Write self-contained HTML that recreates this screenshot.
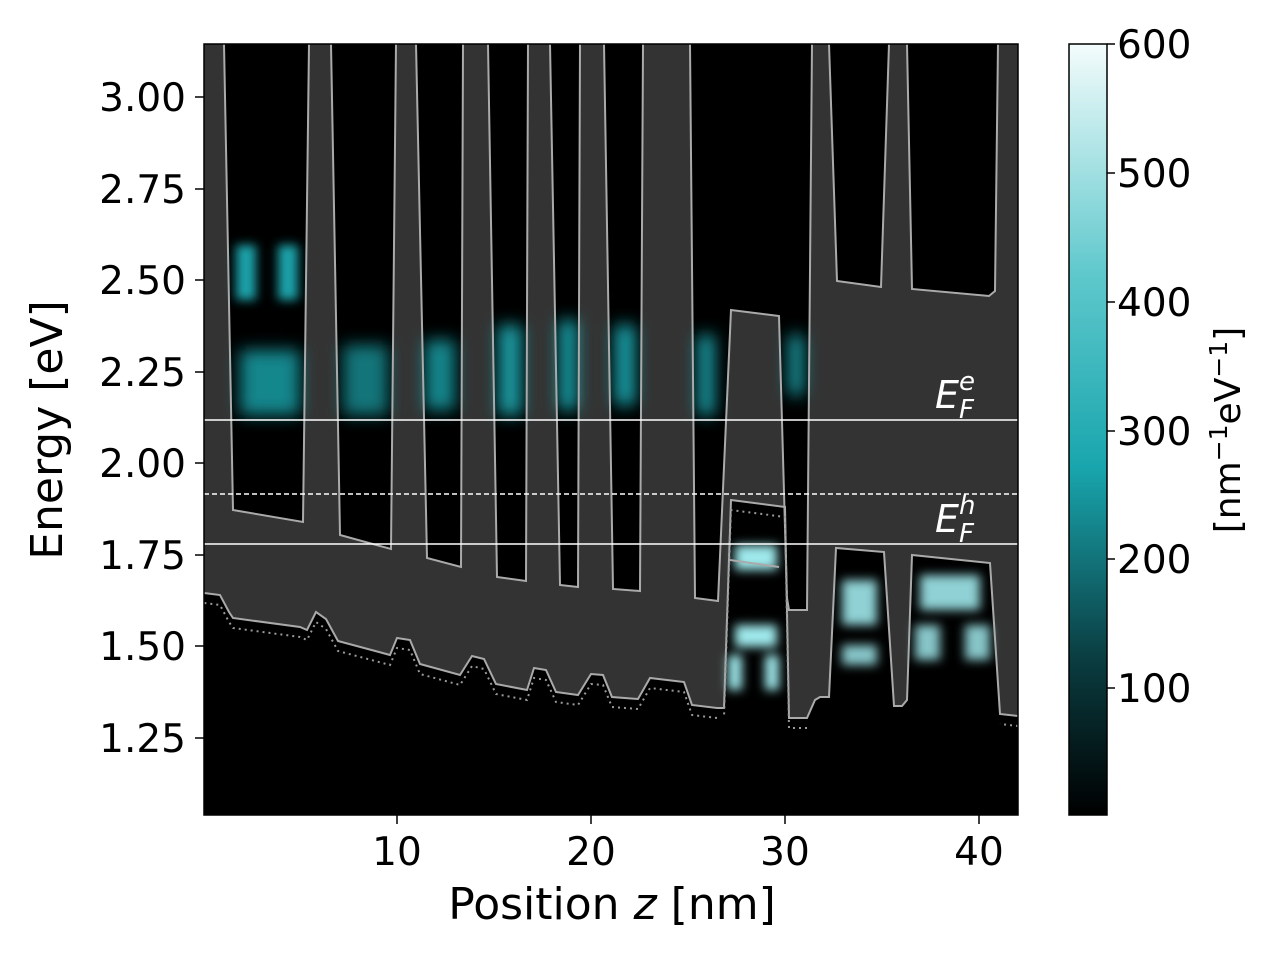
<!DOCTYPE html>
<html><head><meta charset="utf-8"><style>
html,body{margin:0;padding:0;background:#fff;}
svg{display:block;font-family:"DejaVu Sans","Liberation Sans",sans-serif;}
</style></head><body>
<svg width="1280" height="960" viewBox="0 0 1280 960" xmlns="http://www.w3.org/2000/svg">
<defs>
<filter id="b" x="-50%" y="-50%" width="200%" height="200%"><feGaussianBlur stdDeviation="8"/></filter>
<filter id="b2" x="-50%" y="-50%" width="200%" height="200%"><feGaussianBlur stdDeviation="5"/></filter>
<linearGradient id="cb" x1="0" y1="1" x2="0" y2="0">
<stop offset="0" stop-color="#000"/>
<stop offset="0.2" stop-color="#0a3c40"/>
<stop offset="0.45" stop-color="#19a5ad"/>
<stop offset="0.7" stop-color="#5ec8cc"/>
<stop offset="1" stop-color="#f4fcfc"/>
</linearGradient>
<clipPath id="pc"><rect x="204" y="44" width="814" height="771"/></clipPath>
</defs>
<g clip-path="url(#pc)">
<rect x="204" y="44" width="814" height="771" fill="#000"/>
<polygon fill="#333" points="204,44 224,44 233,510 303,522 309,44 331,44 340,535 391,549 396,44 416,44 427,558 461,567 463,44 488,44 497,577 526,581 528,44 550,44 560,585 578,587 580,44 604,44 613,589 640,591 643,44 665,44 690,44 695,598 718,601 731,310 779,316 787,598 789,610 807,610 812,44 829,44 837,281 881,287 889,44 907,44 912,289 989,296 995,291 998,44 1018,44 1018,716 1000,714 990,563 912,555 907,700 902,706 894,706 884,552 836,548 829,697 820,697 815,700 807,718 789,718 785,507 731,500 724,708 717,708 692,705 684,682 650,678 638,699 612,697 603,675 591,674 578,695 556,692 546,670 534,668 527,690 496,684 484,659 472,656 460,675 420,664 410,640 397,638 390,655 338,641 326,619 316,612 307,630 300,627 233,618 229,612 220,595 204,593"/>
<g fill="#1db4bc">
<g filter="url(#b2)">
<rect x="236" y="245" width="20" height="55" opacity="0.9"/>
<rect x="278" y="245" width="20" height="55" opacity="0.9"/>
</g>
<g filter="url(#b)">
<rect x="240" y="350" width="60" height="65" opacity="0.75"/>
<rect x="343" y="345" width="45" height="70" opacity="0.65"/>
<rect x="425" y="340" width="30" height="70" opacity="0.75"/>
<rect x="498" y="325" width="24" height="90" opacity="0.85"/>
<rect x="559" y="320" width="18" height="90" opacity="0.9"/>
<rect x="615" y="325" width="20" height="80" opacity="0.9"/>
<rect x="698" y="335" width="16" height="80" opacity="0.9"/>
<rect x="789" y="335" width="14" height="60" opacity="0.9"/>
</g>
<g filter="url(#b2)" fill="#9ee8eb">
<rect x="735" y="545" width="42" height="25"/>
<rect x="735" y="625" width="42" height="22"/>
<rect x="728" y="655" width="14" height="35"/>
<rect x="765" y="655" width="14" height="35"/>
<rect x="842" y="580" width="35" height="45" opacity="0.9"/>
<rect x="842" y="645" width="35" height="20" opacity="0.85"/>
<rect x="920" y="575" width="60" height="35" opacity="0.9"/>
<rect x="915" y="625" width="25" height="35" opacity="0.85"/>
<rect x="965" y="625" width="25" height="35" opacity="0.85"/>
</g>
</g>
<path fill="none" stroke="#aaa" stroke-width="2" d="M224,44 L233,510 303,522 309,44 M331,44 L340,535 391,549 396,44 M416,44 L427,558 461,567 463,44 M488,44 L497,577 526,581 528,44 M550,44 L560,585 578,587 580,44 M604,44 L613,589 640,591 643,44 M690,44 L695,598 718,601 731,310 779,316 787,598 789,610 807,610 812,44 M829,44 L837,281 881,287 889,44 M907,44 L912,289 989,296 995,291 998,44"/>
<path fill="none" stroke="#aaa" stroke-width="2" d="M1018,716 L1000,714 990,563 912,555 907,700 902,706 894,706 884,552 836,548 829,697 820,697 815,700 807,718 789,718 785,507 731,500 724,708 717,708 692,705 684,682 650,678 638,699 612,697 603,675 591,674 578,695 556,692 546,670 534,668 527,690 496,684 484,659 472,656 460,675 420,664 410,640 397,638 390,655 338,641 326,619 316,612 307,630 300,627 233,618 229,612 220,595 204,593 M730,560 L779,567"/>
<path fill="none" stroke="#999" stroke-width="2" stroke-dasharray="2,4" d="M1018,726 L1000,724 M807,728 L789,728 785,517 731,510 724,718 M717,718 L692,715 684,692 650,688 638,709 612,707 603,685 591,684 578,705 556,702 546,680 534,678 527,700 496,694 484,669 472,666 460,685 420,674 410,650 397,648 390,665 338,651 326,629 316,622 307,640 300,637 233,628 229,622 220,605 204,603"/>
<line x1="204" y1="420" x2="1018" y2="420" stroke="#fff" stroke-width="1.5"/>
<line x1="204" y1="544" x2="1018" y2="544" stroke="#fff" stroke-width="1.5"/>
<line x1="204" y1="494" x2="1018" y2="494" stroke="#fff" stroke-width="1.5" stroke-dasharray="5,3"/>
<text x="935" y="408" fill="#fff" font-size="38" font-style="italic">E<tspan font-size="26" dy="10">F</tspan><tspan font-size="26" dx="-15" dy="-28">e</tspan></text>
<text x="935" y="532" fill="#fff" font-size="38" font-style="italic">E<tspan font-size="26" dy="10">F</tspan><tspan font-size="26" dx="-15" dy="-28">h</tspan></text>
</g>
<rect x="204" y="44" width="814" height="771" fill="none" stroke="#000" stroke-width="1.5"/>
<g stroke="#000" stroke-width="1.5">
<line x1="195" y1="97" x2="204" y2="97"/><line x1="195" y1="189" x2="204" y2="189"/><line x1="195" y1="280" x2="204" y2="280"/><line x1="195" y1="372" x2="204" y2="372"/><line x1="195" y1="463" x2="204" y2="463"/><line x1="195" y1="555" x2="204" y2="555"/><line x1="195" y1="646" x2="204" y2="646"/><line x1="195" y1="738" x2="204" y2="738"/>
<line x1="397" y1="815" x2="397" y2="824"/><line x1="591" y1="815" x2="591" y2="824"/><line x1="785" y1="815" x2="785" y2="824"/><line x1="979" y1="815" x2="979" y2="824"/>
</g>
<g font-size="39" text-anchor="end" fill="#000">
<text x="186" y="111">3.00</text><text x="186" y="203">2.75</text><text x="186" y="294">2.50</text><text x="186" y="386">2.25</text><text x="186" y="477">2.00</text><text x="186" y="569">1.75</text><text x="186" y="660">1.50</text><text x="186" y="752">1.25</text>
</g>
<g font-size="39" text-anchor="middle">
<text x="397" y="865">10</text><text x="591" y="865">20</text><text x="785" y="865">30</text><text x="979" y="865">40</text>
</g>
<text x="612" y="919" font-size="44" text-anchor="middle">Position <tspan font-style="italic">z</tspan> [nm]</text>
<text transform="translate(62,430) rotate(-90)" font-size="44" text-anchor="middle">Energy [eV]</text>
<rect x="1069" y="44" width="38" height="771" fill="url(#cb)" stroke="#000" stroke-width="1.5"/>
<g stroke="#000" stroke-width="1.5">
<line x1="1107" y1="44" x2="1115" y2="44"/><line x1="1107" y1="173" x2="1115" y2="173"/><line x1="1107" y1="302" x2="1115" y2="302"/><line x1="1107" y1="431" x2="1115" y2="431"/><line x1="1107" y1="559" x2="1115" y2="559"/><line x1="1107" y1="688" x2="1115" y2="688"/>
</g>
<g font-size="39">
<text x="1117" y="58">600</text><text x="1117" y="187">500</text><text x="1117" y="316">400</text><text x="1117" y="445">300</text><text x="1117" y="573">200</text><text x="1117" y="702">100</text>
</g>
<text transform="translate(1240,430) rotate(-90)" font-size="36" text-anchor="middle">[nm<tspan font-size="25" dy="-13">−1</tspan><tspan dy="13">eV</tspan><tspan font-size="25" dy="-13">−1</tspan><tspan dy="13">]</tspan></text>
</svg>
</body></html>
